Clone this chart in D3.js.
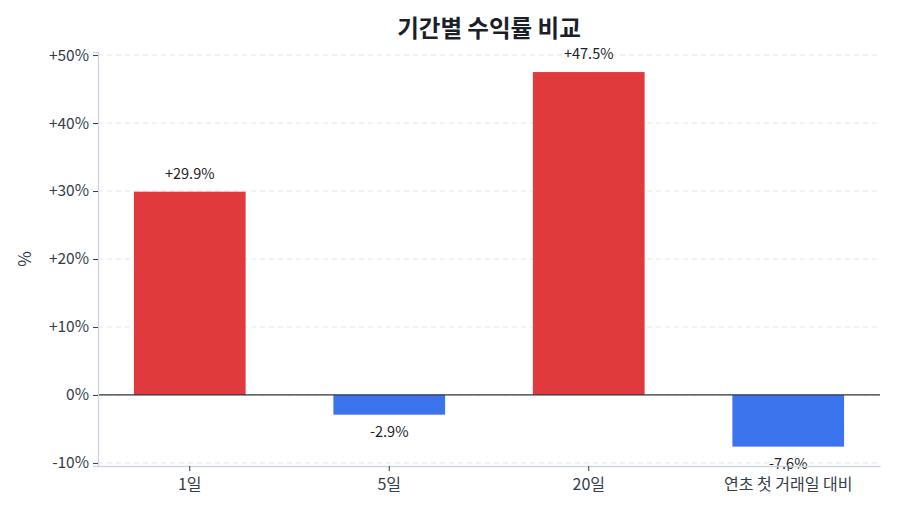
<!DOCTYPE html>
<html>
<head>
<meta charset="utf-8">
<script src="https://cdn.jsdelivr.net/npm/d3@7"></script>
<style>
  body { margin: 0; background: #fff; }
  svg { display: block; font-family: "Noto Sans CJK KR", "Noto Sans", sans-serif; }
</style>
</head>
<body>
<svg id="chart" width="900" height="514"></svg>
<script>
const categories = ['1일', '5일', '20일', '연초 첫 거래일 대비'];
const returns = [29.9, -2.9, 47.5, -7.6];
const yTickValues = [-10, 0, 10, 20, 30, 40, 50];

const width = 900;
const height = 514;
const margin = { top: 52, right: 20, bottom: 48, left: 98 };

const svg = d3.select('#chart');

const x = d3.scaleBand()
    .domain(categories)
    .range([margin.left, width - margin.right])
    .paddingInner(0.44)
    .paddingOuter(0.18);

const y = d3.scaleLinear()
    .domain([-10.45, 50.45])
    .range([height - margin.bottom, margin.top]);

const fmt = v => (v > 0 ? '+' : '') + v.toFixed(1) + '%';
const tickFmt = v => (v > 0 ? '+' : '') + v + '%';

// grid
svg.append('g')
    .selectAll('line')
    .data(yTickValues)
    .join('line')
    .attr('x1', margin.left)
    .attr('x2', width - margin.right)
    .attr('y1', d => y(d))
    .attr('y2', d => y(d))
    .attr('stroke', '#e3e6ec')
    .attr('stroke-dasharray', '5,4');

// bars
svg.append('g')
    .selectAll('rect')
    .data(returns)
    .join('rect')
    .attr('x', (d, i) => x(categories[i]))
    .attr('y', d => y(Math.max(0, d)))
    .attr('width', x.bandwidth())
    .attr('height', d => Math.abs(y(d) - y(0)))
    .attr('fill', d => d >= 0 ? '#e03a3c' : '#3b74ec');

// zero line
svg.append('line')
    .attr('x1', margin.left)
    .attr('x2', width - margin.right)
    .attr('y1', y(0))
    .attr('y2', y(0))
    .attr('stroke', '#2f3640')
    .attr('stroke-width', 1.3);

// value labels
svg.append('g')
    .selectAll('text')
    .data(returns)
    .join('text')
    .attr('x', (d, i) => x(categories[i]) + x.bandwidth() / 2)
    .attr('y', d => d >= 0 ? y(d) - 13 : y(d) + 22)
    .attr('text-anchor', 'middle')
    .attr('font-size', 14.5)
    .attr('fill', '#1f2329')
    .text(fmt);

// y axis
const yAxis = svg.append('g')
    .attr('transform', `translate(${margin.left},0)`)
    .call(d3.axisLeft(y).tickValues(yTickValues).tickFormat(tickFmt).tickSize(5).tickPadding(4));
yAxis.select('.domain').attr('stroke', '#cfd5e0').attr('stroke-width', 1.3);
yAxis.selectAll('.tick line').attr('stroke', '#333d4b');
yAxis.selectAll('.tick text').attr('font-size', 15.5).attr('fill', '#333d4b')
    .attr('font-family', '"Noto Sans CJK KR", sans-serif');

// x axis
const xAxis = svg.append('g')
    .attr('transform', `translate(0,${height - margin.bottom})`)
    .call(d3.axisBottom(x).tickSize(5).tickSizeOuter(0).tickPadding(8));
xAxis.select('.domain').attr('stroke', '#cfd5e0').attr('stroke-width', 1.3);
xAxis.selectAll('.tick line').attr('stroke', '#333d4b');
xAxis.selectAll('.tick text').attr('font-size', 16).attr('fill', '#333d4b')
    .attr('font-family', '"Noto Sans CJK KR", sans-serif');

// y label
svg.append('text')
    .attr('transform', `translate(31,${(margin.top + height - margin.bottom) / 2}) rotate(-90)`)
    .attr('text-anchor', 'middle')
    .attr('font-size', 17)
    .attr('fill', '#333d4b')
    .text('%');

// title
svg.append('text')
    .attr('x', (margin.left + width - margin.right) / 2)
    .attr('y', 37)
    .attr('text-anchor', 'middle')
    .attr('font-size', 23.5)
    .attr('font-weight', 'bold')
    .attr('fill', '#1a1f29')
    .text('기간별 수익률 비교');
</script>
</body>
</html>
